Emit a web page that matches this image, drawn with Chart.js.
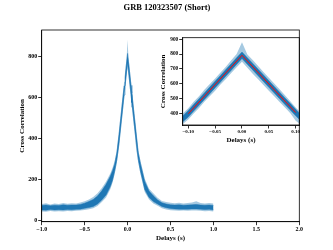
<!DOCTYPE html>
<html>
<head>
<meta charset="utf-8">
<script src="https://cdn.jsdelivr.net/npm/chart.js"></script>
<style>
  body { margin: 0; background: #fff; }
  #wrap { position: relative; width: 333px; height: 250px; }
  #main { position: absolute; left: 0; top: 0; }
  #inset { position: absolute; left: 140px; top: 30px; }
</style>
</head>
<body>
<div id="wrap">
  <canvas id="main" width="333" height="250"></canvas>
  <canvas id="inset" width="165" height="120"></canvas>
</div>
<script>
var delays = [-1.00, -0.95, -0.90, -0.85, -0.80, -0.75, -0.70, -0.65, -0.60, -0.55,
  -0.50, -0.45, -0.40, -0.35, -0.30, -0.25, -0.20, -0.175, -0.15, -0.125,
  -0.10, -0.09, -0.08, -0.07, -0.06, -0.05, -0.04, -0.03, -0.02, -0.01,
  0.00, 0.01, 0.02, 0.03, 0.04, 0.05, 0.06, 0.07, 0.08, 0.09, 0.10,
  0.125, 0.15, 0.175, 0.20, 0.25, 0.30, 0.35, 0.40, 0.45,
  0.50, 0.55, 0.60, 0.65, 0.70, 0.75, 0.80, 0.85, 0.90, 0.95, 1.00];

// outer edge of the noise (spikes)
var upperEdge = [82, 86, 80, 84, 82, 87, 83, 86, 85, 89,
  96, 104, 116, 134, 160, 192, 232, 258, 292, 345,
  435, 478, 515, 560, 598, 636, 676, 715, 758, 800,
  880, 798, 760, 720, 680, 640, 602, 562, 522, 482, 440,
  345, 292, 250, 205, 156, 134, 112, 97, 92,
  88, 86, 88, 85, 87, 89, 95, 87, 85, 87, 84];
var lowerEdge = [46, 44, 48, 45, 47, 46, 48, 47, 49, 50,
  53, 57, 61, 72, 92, 114, 155, 186, 228, 283,
  358, 398, 436, 478, 515, 552, 594, 632, 672, 712,
  748, 708, 668, 630, 592, 552, 515, 476, 440, 400, 350,
  283, 228, 184, 140, 104, 84, 73, 61, 55,
  52, 50, 49, 50, 49, 50, 50, 49, 47, 48, 45];

// dense core of the noise band
var upperCore = [75, 77, 74, 76, 75, 78, 76, 77, 77, 80,
  86, 94, 104, 121, 146, 178, 218, 244, 276, 330,
  419, 459, 498, 538, 577, 617, 656, 696, 735, 775,
  814, 775, 737, 698, 659, 620, 582, 543, 504, 466, 427,
  330, 278, 234, 192, 145, 122, 102, 88, 82,
  78, 77, 78, 76, 77, 78, 80, 77, 76, 77, 75];
var lowerCore = [53, 52, 55, 53, 54, 53, 55, 54, 56, 57,
  61, 65, 70, 82, 102, 126, 168, 198, 242, 297,
  375, 415, 454, 494, 533, 573, 612, 652, 691, 731,
  770, 731, 693, 654, 615, 576, 538, 499, 460, 422, 383,
  297, 242, 198, 152, 114, 94, 82, 70, 64,
  60, 58, 57, 57, 57, 58, 58, 57, 55, 56, 53];

// red triangular fit in the inset
var fitDelays = [-0.10, 0.00, 0.10];
var fitValues = [397, 792, 405];

var mainXTicks = [-1.0, -0.5, 0.0, 0.5, 1.0, 1.5, 2.0];
var mainYTicks = [0, 200, 400, 600, 800];
var insetXTicks = [-0.10, -0.05, 0.00, 0.05, 0.10];
var insetYTicks = [400, 500, 600, 700, 800, 900];

var blue = '#1f77b4';
var lightBlue = 'rgba(31,119,180,0.4)';
var serif = '"Liberation Serif", "DejaVu Serif", serif';

function pts(xs, ys) {
  return xs.map(function (x, i) { return {x: x, y: ys[i]}; });
}

function bandSets() {
  return [
    {data: pts(delays, upperCore), borderColor: blue, backgroundColor: blue, borderWidth: 0.5, fill: '+1', order: 1},
    {data: pts(delays, lowerCore), borderColor: blue, borderWidth: 0.5, fill: false, order: 1},
    {data: pts(delays, upperEdge), borderColor: 'rgba(0,0,0,0)', backgroundColor: lightBlue, borderWidth: 0, fill: '+1', order: 2},
    {data: pts(delays, lowerEdge), borderColor: 'rgba(0,0,0,0)', borderWidth: 0, fill: false, order: 2}
  ];
}

function minus(s) { return s.replace('-', '\u2212'); }

var framePlugin = {
  id: 'frame',
  afterDatasetsDraw: function (chart) {
    var a = chart.chartArea, c = chart.ctx;
    c.save();
    c.strokeStyle = '#000';
    c.lineWidth = 0.8;
    c.strokeRect(a.left, a.top, a.right - a.left, a.bottom - a.top);
    c.restore();
  }
};

var titlePlugin = {
  id: 'figTitle',
  afterDraw: function (chart) {
    var c = chart.ctx;
    c.save();
    c.fillStyle = '#000';
    c.font = 'bold 8.5px ' + serif;
    c.textAlign = 'center';
    c.textBaseline = 'middle';
    c.fillText('GRB 120323507 (Short)', 167, 8);
    c.restore();
  }
};

function axis(opts) {
  return {
    type: 'linear',
    min: opts.min,
    max: opts.max,
    afterFit: opts.fit,
    afterBuildTicks: function (s) { s.ticks = opts.ticks.map(function (v) { return {value: v}; }); },
    border: {display: true, color: '#000', width: 0.8},
    grid: {drawOnChartArea: false, drawTicks: true, tickLength: 3.5, tickColor: '#000', tickWidth: 0.8},
    ticks: {
      color: '#000',
      padding: opts.pad,
      maxRotation: 0,
      autoSkip: false,
      font: {family: serif, size: opts.tickSize, weight: 'bold'},
      callback: function (v) { return minus(opts.dec === null ? String(v) : v.toFixed(opts.dec)); }
    },
    title: {
      display: true,
      text: opts.title,
      color: '#000',
      font: {family: serif, size: 7, weight: 'bold'},
      padding: opts.titlePad
    }
  };
}

Chart.defaults.animation = false;

new Chart(document.getElementById('main'), {
  type: 'line',
  data: {datasets: bandSets()},
  options: {
    responsive: false,
    devicePixelRatio: 1,
    layout: {padding: {left: 0, right: 33.7, top: 30, bottom: 0}},
    elements: {point: {radius: 0}, line: {tension: 0}},
    plugins: {legend: {display: false}, tooltip: {enabled: false}},
    scales: {
      x: axis({min: -1, max: 2, ticks: mainXTicks, dec: 1, tickSize: 6, pad: 0.5,
        title: 'Delays (s)', titlePad: {top: 0, bottom: 7.5},
        fit: function (s) { s.height = 28.3; }}),
      y: axis({min: -4, max: 928, ticks: mainYTicks, dec: null, tickSize: 6, pad: 1,
        title: 'Cross Correlation', titlePad: {top: 17.8, bottom: 0},
        fit: function (s) { s.width = 41.7; }})
    }
  },
  plugins: [framePlugin, titlePlugin]
});

var insetSets = bandSets();
insetSets.unshift({data: pts(fitDelays, fitValues), borderColor: 'red', borderWidth: 1, fill: false, order: 0});

new Chart(document.getElementById('inset'), {
  type: 'line',
  data: {datasets: insetSets},
  options: {
    responsive: false,
    devicePixelRatio: 1,
    layout: {padding: {left: 0, right: 5.7, top: 7.7, bottom: 0}},
    elements: {point: {radius: 0}, line: {tension: 0}},
    plugins: {legend: {display: false}, tooltip: {enabled: false}},
    scales: {
      x: axis({min: -0.1104, max: 0.1067, ticks: insetXTicks, dec: 2, tickSize: 5, pad: 0,
        title: 'Delays (s)', titlePad: {top: 0, bottom: 5.8},
        fit: function (s) { s.height = 25; }}),
      y: axis({min: 321, max: 911, ticks: insetYTicks, dec: null, tickSize: 5.3, pad: 1,
        title: 'Cross Correlation', titlePad: {top: 19.1, bottom: 0},
        fit: function (s) { s.width = 42.7; }})
    }
  },
  plugins: [framePlugin]
});
</script>
</body>
</html>
